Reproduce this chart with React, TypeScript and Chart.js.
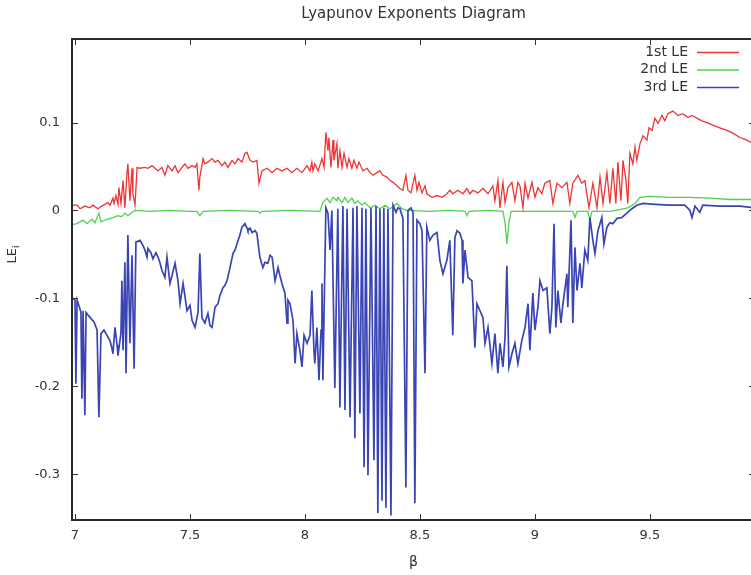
import React, { useEffect, useRef } from 'react';
import { Chart, registerables } from 'chart.js';

Chart.register(...registerables);

const TITLE = 'Lyapunov Exponents Diagram';
const X_LABEL = 'β';
const Y_LABEL_MAIN = 'LE';
const Y_LABEL_SUB = 'i';
const X_TICKS = [7, 7.5, 8, 8.5, 9, 9.5];
const Y_TICKS = [-0.3, -0.2, -0.1, 0, 0.1];
const X_MIN = 6.987;
const X_MAX = 9.957;
const Y_MIN = -0.352;
const Y_MAX = 0.195;

const SERIES_LABELS = ['1st LE', '2nd LE', '3rd LE'];
const SERIES_COLORS = ['#ee3535', '#4ed24e', '#3a45b3'];

// 1st LE
const beta1 = [6.987,7.009,7.022,7.043,7.065,7.078,7.100,7.117,7.130,7.143,7.152,7.165,7.170,7.178,7.187,7.191,7.200,7.209,7.217,7.226,7.230,7.239,7.248,7.252,7.261,7.270,7.283,7.304,7.317,7.335,7.348,7.361,7.378,7.391,7.404,7.422,7.435,7.448,7.465,7.478,7.491,7.509,7.522,7.530,7.539,7.543,7.557,7.565,7.578,7.596,7.609,7.622,7.639,7.652,7.665,7.683,7.696,7.709,7.726,7.739,7.748,7.761,7.774,7.791,7.800,7.813,7.835,7.857,7.878,7.900,7.922,7.943,7.965,7.987,8.009,8.022,8.030,8.035,8.043,8.057,8.074,8.083,8.091,8.100,8.104,8.113,8.122,8.126,8.139,8.143,8.152,8.161,8.170,8.183,8.191,8.204,8.213,8.226,8.235,8.252,8.270,8.283,8.296,8.313,8.326,8.339,8.357,8.370,8.383,8.400,8.413,8.426,8.439,8.448,8.461,8.478,8.487,8.496,8.509,8.522,8.530,8.552,8.574,8.596,8.617,8.630,8.643,8.665,8.687,8.704,8.717,8.730,8.752,8.774,8.796,8.817,8.826,8.839,8.848,8.861,8.870,8.883,8.900,8.913,8.926,8.935,8.948,8.957,8.970,8.987,9.000,9.013,9.030,9.043,9.065,9.078,9.096,9.117,9.139,9.152,9.165,9.187,9.204,9.217,9.235,9.252,9.270,9.283,9.296,9.313,9.326,9.339,9.352,9.361,9.374,9.383,9.396,9.404,9.413,9.426,9.435,9.443,9.457,9.470,9.487,9.496,9.509,9.522,9.535,9.552,9.565,9.578,9.600,9.622,9.643,9.665,9.683,9.704,9.726,9.748,9.774,9.804,9.835,9.861,9.891,9.922,9.935,9.957];
const le1 = [0.006,0.006,0.002,0.005,0.003,0.006,0.002,0.005,0.007,0.009,0.006,0.014,0.008,0.017,0.007,0.026,0.008,0.034,0.003,0.042,0.053,0.011,0.048,0.019,0.006,0.049,0.048,0.049,0.048,0.051,0.048,0.045,0.049,0.040,0.051,0.045,0.051,0.043,0.049,0.053,0.048,0.051,0.049,0.053,0.023,0.038,0.059,0.053,0.055,0.059,0.055,0.057,0.051,0.055,0.049,0.057,0.053,0.059,0.055,0.065,0.066,0.057,0.055,0.057,0.031,0.045,0.048,0.043,0.048,0.045,0.048,0.043,0.048,0.043,0.051,0.045,0.055,0.045,0.053,0.045,0.059,0.049,0.089,0.068,0.083,0.049,0.080,0.057,0.076,0.048,0.068,0.049,0.065,0.049,0.059,0.048,0.057,0.048,0.055,0.045,0.048,0.043,0.040,0.043,0.045,0.040,0.038,0.034,0.032,0.028,0.025,0.023,0.040,0.023,0.020,0.040,0.023,0.032,0.020,0.028,0.019,0.015,0.017,0.015,0.019,0.023,0.019,0.023,0.019,0.025,0.019,0.023,0.020,0.025,0.019,0.028,0.011,0.034,0.003,0.032,0.009,0.026,0.032,0.011,0.032,0.028,0.003,0.031,0.014,0.032,0.015,0.026,0.019,0.031,0.034,0.008,0.031,0.026,0.032,0.008,0.031,0.040,0.031,0.034,0.003,0.031,0.003,0.038,0.008,0.043,0.008,0.048,0.008,0.055,0.011,0.057,0.034,0.008,0.065,0.053,0.072,0.057,0.076,0.085,0.080,0.094,0.091,0.105,0.099,0.108,0.102,0.110,0.113,0.108,0.110,0.106,0.108,0.105,0.102,0.100,0.097,0.094,0.091,0.088,0.083,0.080,0.078,0.076];

// 2nd LE
const beta2 = [6.987,7.009,7.035,7.052,7.074,7.087,7.104,7.113,7.139,7.165,7.187,7.204,7.217,7.230,7.248,7.261,7.326,7.413,7.500,7.530,7.543,7.557,7.674,7.796,7.804,7.813,7.935,8.065,8.078,8.096,8.109,8.122,8.139,8.143,8.161,8.174,8.187,8.204,8.217,8.230,8.248,8.261,8.283,8.304,8.326,8.348,8.370,8.400,8.422,8.443,8.543,8.630,8.696,8.704,8.713,8.804,8.861,8.870,8.878,8.887,8.896,9.022,9.109,9.165,9.174,9.183,9.230,9.239,9.248,9.326,9.370,9.404,9.435,9.457,9.500,9.587,9.674,9.761,9.848,9.957];
const le2 = [-0.016,-0.015,-0.011,-0.015,-0.010,-0.014,-0.003,-0.013,-0.010,-0.008,-0.006,-0.007,-0.003,-0.006,-0.002,0.000,-0.001,0.000,-0.001,-0.001,-0.006,-0.001,0.000,-0.001,-0.003,-0.001,0.000,-0.001,0.009,0.014,0.009,0.015,0.011,0.015,0.009,0.015,0.009,0.014,0.008,0.011,0.006,0.009,0.003,0.006,0.002,0.006,0.002,0.008,0.002,0.000,-0.001,0.000,-0.001,-0.006,-0.001,0.000,-0.001,-0.014,-0.038,-0.014,-0.001,-0.001,-0.001,-0.001,-0.008,-0.001,-0.001,-0.011,-0.001,-0.001,0.001,0.003,0.008,0.015,0.016,0.015,0.015,0.014,0.0125,0.0125];

// 3rd LE
const beta3 = [6.987,7.000,7.004,7.009,7.017,7.026,7.030,7.035,7.043,7.048,7.057,7.070,7.083,7.096,7.104,7.113,7.126,7.139,7.152,7.161,7.165,7.174,7.183,7.187,7.200,7.204,7.209,7.217,7.222,7.230,7.239,7.248,7.257,7.265,7.283,7.296,7.304,7.313,7.317,7.330,7.339,7.352,7.361,7.370,7.378,7.391,7.400,7.413,7.422,7.435,7.448,7.457,7.470,7.478,7.487,7.500,7.509,7.522,7.535,7.543,7.552,7.565,7.578,7.587,7.596,7.609,7.622,7.630,7.643,7.652,7.661,7.674,7.687,7.696,7.704,7.717,7.726,7.739,7.748,7.752,7.761,7.770,7.783,7.791,7.804,7.817,7.826,7.839,7.848,7.857,7.870,7.883,7.891,7.900,7.913,7.922,7.926,7.935,7.948,7.957,7.965,7.978,7.987,7.996,8.009,8.022,8.030,8.039,8.043,8.052,8.061,8.070,8.074,8.078,8.091,8.100,8.109,8.117,8.130,8.143,8.152,8.165,8.174,8.183,8.196,8.209,8.217,8.226,8.239,8.248,8.257,8.265,8.274,8.287,8.300,8.309,8.317,8.326,8.335,8.343,8.352,8.361,8.374,8.383,8.396,8.404,8.413,8.426,8.439,8.448,8.461,8.470,8.478,8.487,8.500,8.509,8.522,8.530,8.543,8.557,8.574,8.587,8.600,8.617,8.630,8.643,8.652,8.661,8.674,8.683,8.687,8.696,8.709,8.726,8.739,8.748,8.761,8.774,8.783,8.796,8.813,8.826,8.839,8.848,8.861,8.870,8.878,8.887,8.900,8.913,8.926,8.943,8.957,8.970,8.978,8.991,9.000,9.013,9.022,9.035,9.052,9.065,9.074,9.083,9.091,9.100,9.113,9.122,9.139,9.143,9.157,9.165,9.174,9.183,9.196,9.204,9.217,9.230,9.239,9.252,9.261,9.274,9.291,9.300,9.313,9.326,9.339,9.357,9.378,9.400,9.422,9.443,9.470,9.522,9.587,9.652,9.674,9.683,9.696,9.717,9.730,9.804,9.891,9.957];
const le3 = [-0.099,-0.102,-0.197,-0.102,-0.108,-0.116,-0.214,-0.114,-0.233,-0.116,-0.119,-0.123,-0.127,-0.136,-0.235,-0.140,-0.136,-0.142,-0.148,-0.157,-0.163,-0.133,-0.153,-0.165,-0.139,-0.080,-0.159,-0.059,-0.185,-0.028,-0.151,-0.051,-0.180,-0.036,-0.034,-0.040,-0.045,-0.053,-0.043,-0.048,-0.055,-0.048,-0.053,-0.060,-0.068,-0.076,-0.053,-0.083,-0.074,-0.060,-0.080,-0.106,-0.083,-0.097,-0.114,-0.108,-0.125,-0.133,-0.116,-0.049,-0.122,-0.128,-0.117,-0.131,-0.133,-0.110,-0.106,-0.097,-0.088,-0.085,-0.080,-0.065,-0.049,-0.045,-0.038,-0.028,-0.019,-0.015,-0.020,-0.023,-0.020,-0.025,-0.023,-0.026,-0.053,-0.065,-0.059,-0.060,-0.051,-0.053,-0.080,-0.065,-0.074,-0.083,-0.094,-0.128,-0.102,-0.106,-0.125,-0.174,-0.140,-0.159,-0.178,-0.142,-0.151,-0.142,-0.091,-0.159,-0.174,-0.133,-0.193,-0.136,-0.083,-0.193,0.003,-0.003,-0.045,0.000,-0.202,0.002,-0.224,0.005,-0.227,0.002,-0.235,0.003,-0.259,0.005,-0.231,0.003,-0.292,0.002,-0.301,0.003,-0.284,0.005,-0.344,0.002,-0.330,0.003,-0.338,0.002,-0.347,0.006,-0.002,0.003,0.002,-0.009,-0.315,0.000,0.003,-0.002,-0.333,-0.011,-0.015,-0.023,-0.185,-0.019,-0.034,-0.028,-0.025,-0.057,-0.072,-0.057,-0.034,-0.142,-0.031,-0.023,-0.026,-0.034,-0.083,-0.045,-0.076,-0.080,-0.156,-0.106,-0.114,-0.122,-0.151,-0.133,-0.174,-0.140,-0.185,-0.151,-0.178,-0.144,-0.063,-0.178,-0.163,-0.151,-0.174,-0.148,-0.133,-0.106,-0.159,-0.094,-0.136,-0.110,-0.080,-0.091,-0.088,-0.140,-0.110,-0.015,-0.133,-0.091,-0.128,-0.106,-0.072,-0.110,-0.011,-0.128,-0.042,-0.091,-0.060,-0.088,-0.045,-0.057,-0.008,-0.034,-0.049,-0.023,-0.008,-0.038,-0.019,-0.014,-0.015,-0.009,-0.008,-0.003,0.002,0.006,0.008,0.007,0.006,0.006,0.000,-0.008,0.005,-0.002,0.006,0.005,0.005,0.003];

const FONT = 'DejaVu Sans, sans-serif';
const TEXT_COLOR = '#333';

const toPoints = (xs: number[], ys: number[]) => xs.map((x, i) => ({ x, y: ys[i] }));

const framePlugin = {
  id: 'gnuplotFrame',
  afterDatasetsDraw(chart: any) {
    const { ctx, chartArea: a, scales } = chart;
    const xs = scales.x;
    const ys = scales.y;
    const L = 6;
    ctx.save();
    ctx.strokeStyle = '#333';
    ctx.lineWidth = 1;
    ctx.beginPath();
    X_TICKS.forEach((v) => {
      const px = Math.round(xs.getPixelForValue(v)) + 0.5;
      ctx.moveTo(px, a.bottom);
      ctx.lineTo(px, a.bottom - L);
      ctx.moveTo(px, a.top);
      ctx.lineTo(px, a.top + L);
    });
    Y_TICKS.forEach((v) => {
      const py = Math.round(ys.getPixelForValue(v)) + 0.5;
      ctx.moveTo(a.left, py);
      ctx.lineTo(a.left + L, py);
      ctx.moveTo(a.right, py);
      ctx.lineTo(a.right - L, py);
    });
    ctx.stroke();
    ctx.lineWidth = 2;
    ctx.strokeStyle = '#2a2a2a';
    ctx.strokeRect(a.left, a.top, a.right - a.left, a.bottom - a.top);
    ctx.restore();
  },
};

const legendPlugin = {
  id: 'insideLegend',
  afterDraw(chart: any) {
    const { ctx, chartArea: a } = chart;
    ctx.save();
    ctx.font = `14px ${FONT}`;
    ctx.textAlign = 'right';
    ctx.textBaseline = 'middle';
    chart.data.datasets.forEach((ds: any, i: number) => {
      const y = a.top + 13 + i * 17.5;
      ctx.fillStyle = TEXT_COLOR;
      ctx.fillText(ds.label, a.right - 67, y);
      ctx.strokeStyle = ds.borderColor;
      ctx.lineWidth = 1.6;
      ctx.beginPath();
      ctx.moveTo(a.right - 58, y + 0.5);
      ctx.lineTo(a.right - 16, y + 0.5);
      ctx.stroke();
    });
    ctx.restore();
  },
};

const yLabelPlugin = {
  id: 'yLabel',
  afterDraw(chart: any) {
    const { ctx, scales } = chart;
    const cy = scales.y.getPixelForValue(-0.05);
    ctx.save();
    ctx.translate(13, cy);
    ctx.rotate(-Math.PI / 2);
    ctx.fillStyle = TEXT_COLOR;
    ctx.textBaseline = 'middle';
    ctx.font = `13px ${FONT}`;
    const wMain = ctx.measureText(Y_LABEL_MAIN).width;
    ctx.font = `9px ${FONT}`;
    const wSub = ctx.measureText(Y_LABEL_SUB).width;
    const start = -(wMain + wSub) / 2;
    ctx.font = `13px ${FONT}`;
    ctx.textAlign = 'left';
    ctx.fillText(Y_LABEL_MAIN, start, 0);
    ctx.font = `9px ${FONT}`;
    ctx.fillText(Y_LABEL_SUB, start + wMain, 4);
    ctx.restore();
  },
};

export default function App() {
  const ref = useRef<HTMLCanvasElement | null>(null);

  useEffect(() => {
    if (!ref.current) return;
    const series = [
      { xs: beta1, ys: le1, w: 1.3 },
      { xs: beta2, ys: le2, w: 1.3 },
      { xs: beta3, ys: le3, w: 1.7 },
    ];
    const chart = new Chart(ref.current, {
      type: 'line',
      data: {
        datasets: series.map((s, i) => ({
          label: SERIES_LABELS[i],
          data: toPoints(s.xs, s.ys),
          borderColor: SERIES_COLORS[i],
          backgroundColor: SERIES_COLORS[i],
          borderWidth: s.w,
          pointRadius: 0,
          tension: 0,
          fill: false,
          order: 2 - i,
        })),
      },
      options: {
        animation: false,
        responsive: false,
        devicePixelRatio: 1,
        events: [],
        layout: { padding: { left: 0, right: 45, top: 0, bottom: 0 } },
        plugins: {
          legend: { display: false },
          tooltip: { enabled: false },
          title: {
            display: true,
            fullSize: false,
            text: TITLE,
            color: TEXT_COLOR,
            font: { family: FONT, size: 15, weight: 'normal' },
            padding: { top: 5, bottom: 16 },
          },
        },
        scales: {
          x: {
            type: 'linear',
            min: X_MIN,
            max: X_MAX,
            grid: { display: false, drawTicks: false },
            border: { display: false },
            afterBuildTicks: (s: any) => {
              s.ticks = X_TICKS.map((v) => ({ value: v }));
            },
            afterFit: (s: any) => {
              s.height = 55;
            },
            ticks: {
              color: TEXT_COLOR,
              font: { family: FONT, size: 13 },
              padding: 8,
              maxRotation: 0,
              autoSkip: false,
              callback: (v: any) => String(v),
            },
            title: {
              display: true,
              text: X_LABEL,
              color: TEXT_COLOR,
              font: { family: FONT, size: 14 },
              padding: { top: 0, bottom: 4 },
            },
          },
          y: {
            type: 'linear',
            min: Y_MIN,
            max: Y_MAX,
            grid: { display: false, drawTicks: false },
            border: { display: false },
            afterBuildTicks: (s: any) => {
              s.ticks = Y_TICKS.map((v) => ({ value: v }));
            },
            afterFit: (s: any) => {
              s.width = 72;
            },
            ticks: {
              color: TEXT_COLOR,
              font: { family: FONT, size: 13 },
              padding: 12,
              autoSkip: false,
              callback: (v: any) => String(Math.round(Number(v) * 10) / 10),
            },
          },
        },
      },
      plugins: [framePlugin, legendPlugin, yLabelPlugin],
    });
    return () => chart.destroy();
  }, []);

  return (
    <div
      style={{
        position: 'fixed',
        left: 0,
        top: 0,
        width: 751,
        height: 575,
        overflow: 'hidden',
        background: '#fff',
      }}
    >
      <canvas ref={ref} width={800} height={575} style={{ display: 'block', width: 800, height: 575 }} />
    </div>
  );
}
